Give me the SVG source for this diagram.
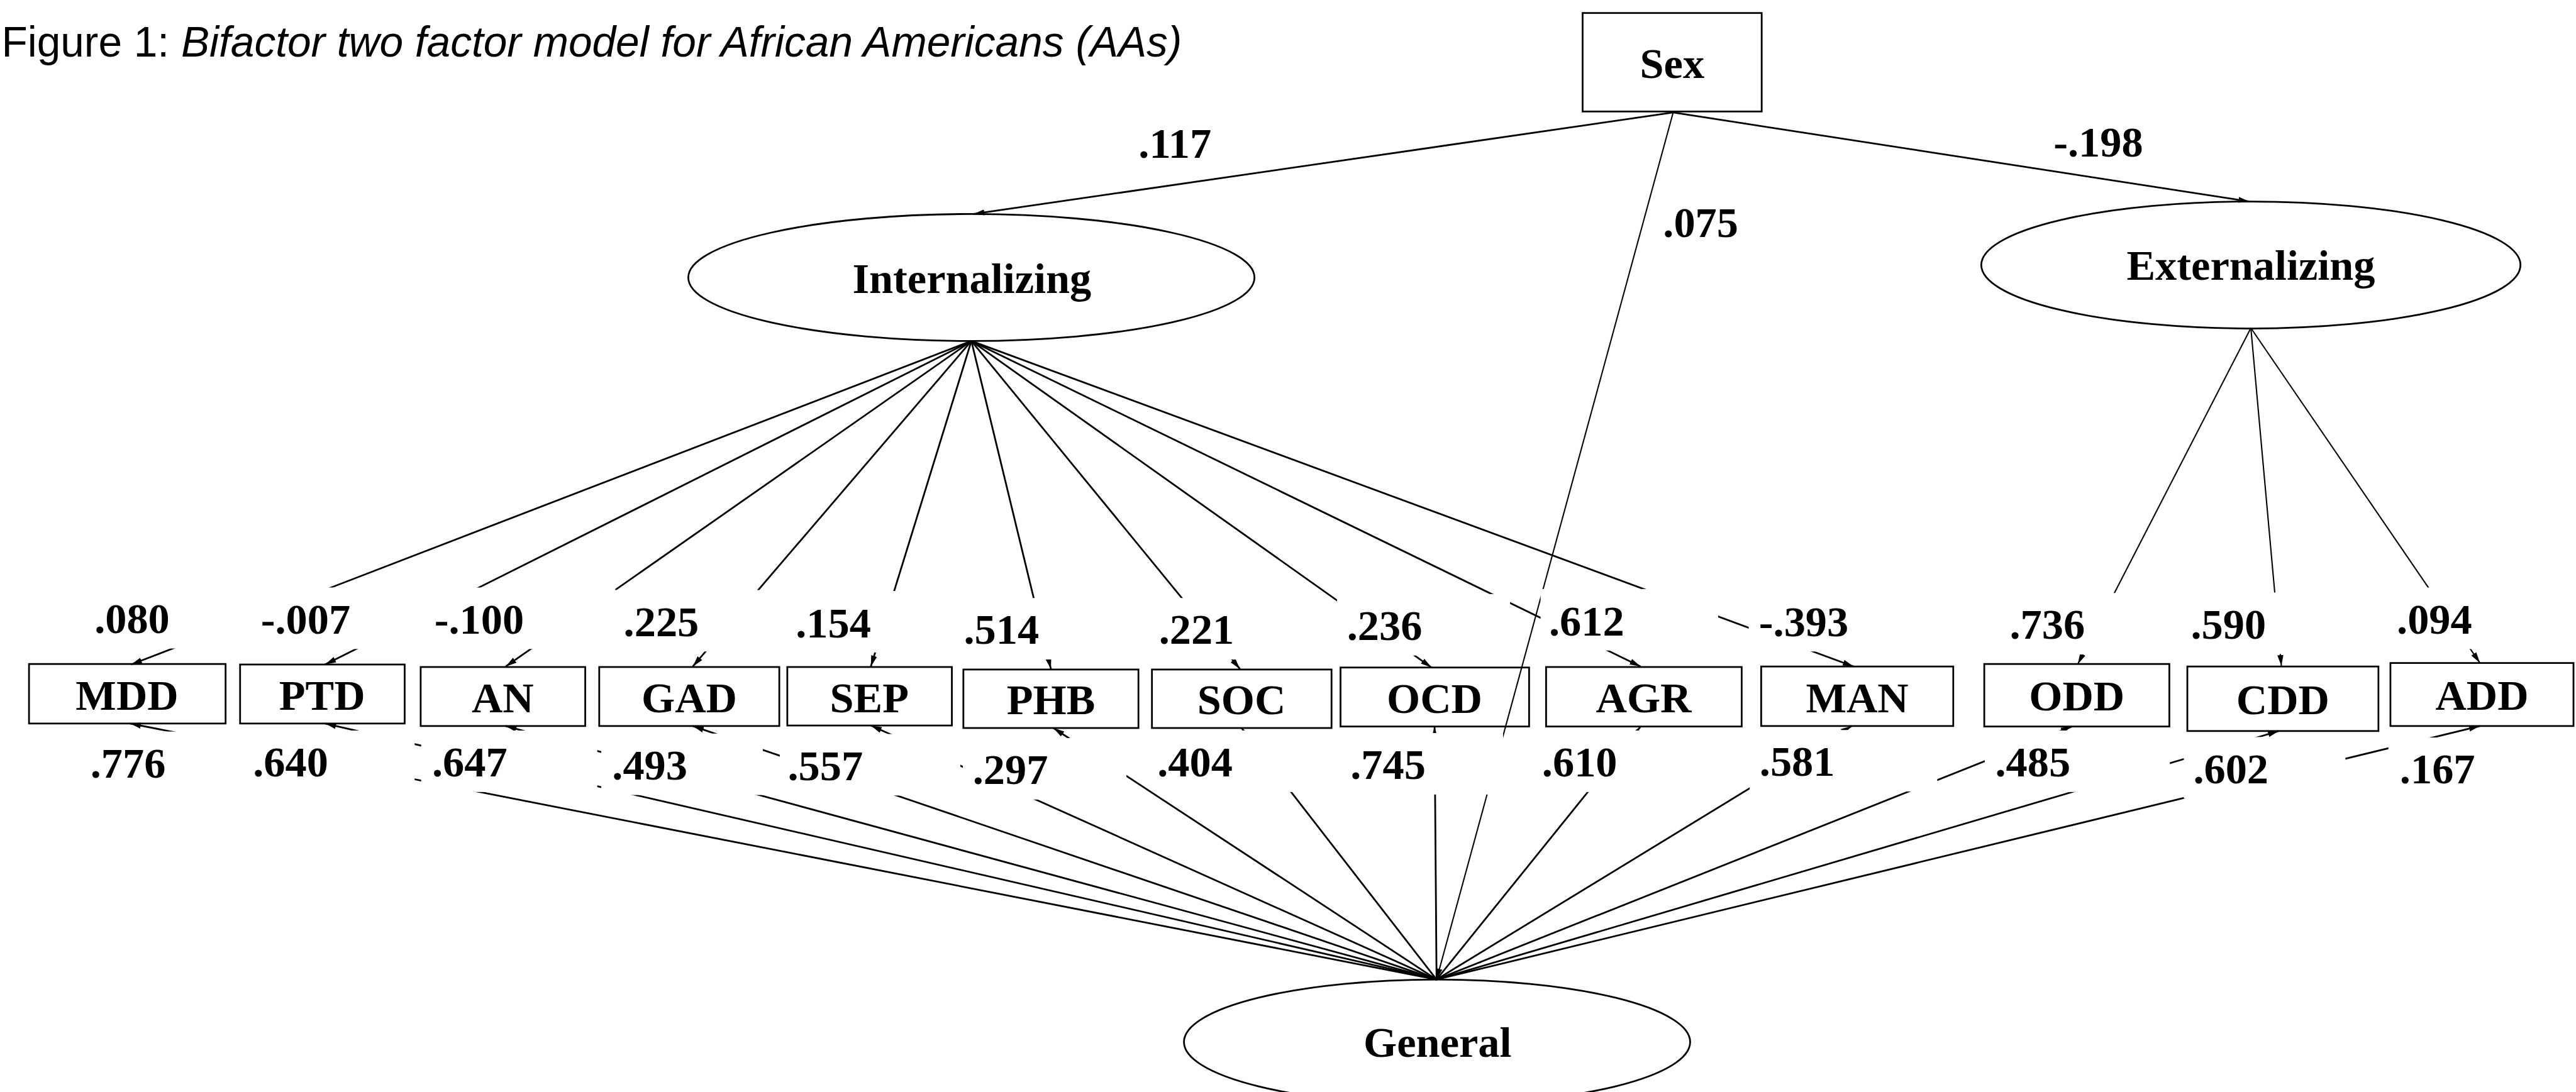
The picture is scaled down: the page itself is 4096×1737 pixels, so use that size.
<svg xmlns="http://www.w3.org/2000/svg" width="4096" height="1737" viewBox="0 0 4096 1737">
<defs>
<marker id="arr" markerUnits="userSpaceOnUse" markerWidth="24" markerHeight="14" refX="22" refY="6" orient="auto" viewBox="0 0 24 12">
<path d="M0,0 L22,6 L0,12 Z" fill="#000"/>
</marker>
<style>
.ln{stroke:#000;stroke-width:3.5;fill:none;marker-end:url(#arr)}
.thin{stroke-width:2.6}
.bx{fill:none;stroke:#000;stroke-width:3.5}
.el{fill:none;stroke:#000;stroke-width:3.5}
.nt{font-family:"Liberation Serif","Times New Roman",serif;font-weight:bold;font-size:86px;text-anchor:middle;fill:#000}
.lb{font-family:"Liberation Serif","Times New Roman",serif;font-weight:bold;font-size:86px;text-anchor:middle;fill:#000}
.bg{fill:#fff;stroke:none}
.ttl{font-family:"Liberation Sans",Arial,sans-serif;font-size:85px;fill:#000}
</style>
</defs>
<rect width="4096" height="1737" fill="#fff"/>
<g transform="scale(0.79534)">
<text class="ttl" x="3" y="113">Figure 1: <tspan font-style="italic">Bifactor two factor model for African Americans (AAs)</tspan></text>

<g id="connectors">
<line class="ln" x1="3345" y1="225" x2="1946" y2="428"/>
<line class="ln" x1="3345" y1="225" x2="4497" y2="403"/>
<line class="ln thin" x1="3345" y1="225" x2="2872" y2="1959"/>
<line class="ln" x1="1942" y1="682" x2="262" y2="1329"/>
<line class="ln" x1="1942" y1="682" x2="650" y2="1329"/>
<line class="ln" x1="1942" y1="682" x2="1011" y2="1333"/>
<line class="ln" x1="1942" y1="682" x2="1385" y2="1333"/>
<line class="ln" x1="1942" y1="682" x2="1741" y2="1333"/>
<line class="ln" x1="1942" y1="682" x2="2101" y2="1338"/>
<line class="ln" x1="1942" y1="682" x2="2479" y2="1338"/>
<line class="ln" x1="1942" y1="682" x2="2862" y2="1335"/>
<line class="ln" x1="1942" y1="682" x2="3280" y2="1333"/>
<line class="ln" x1="1942" y1="682" x2="3706" y2="1333"/>
<line class="ln thin" x1="4500" y1="656" x2="4154" y2="1328"/>
<line class="ln thin" x1="4500" y1="656" x2="4561" y2="1332"/>
<line class="ln thin" x1="4500" y1="656" x2="4958" y2="1326"/>
<line class="ln" x1="2872" y1="1959" x2="260" y2="1447"/>
<line class="ln" x1="2872" y1="1959" x2="650" y2="1447"/>
<line class="ln" x1="2872" y1="1959" x2="1011" y2="1452"/>
<line class="ln" x1="2872" y1="1959" x2="1385" y2="1452"/>
<line class="ln" x1="2872" y1="1959" x2="1741" y2="1451"/>
<line class="ln" x1="2872" y1="1959" x2="2106" y2="1456"/>
<line class="ln" x1="2872" y1="1959" x2="2482" y2="1456"/>
<line class="ln" x1="2872" y1="1959" x2="2868" y2="1453"/>
<line class="ln" x1="2872" y1="1959" x2="3280" y2="1453"/>
<line class="ln" x1="2872" y1="1959" x2="3702" y2="1452"/>
<line class="ln" x1="2872" y1="1959" x2="4142" y2="1453"/>
<line class="ln" x1="2872" y1="1959" x2="4556" y2="1462"/>
<line class="ln" x1="2872" y1="1959" x2="4958" y2="1452"/>
</g>

<g id="labels">
<text class="lb" x="2349" y="315">.117</text>
<text class="lb" x="4195" y="313">-.198</text>
<text class="lb" x="3400" y="474">.075</text>

<rect class="bg" x="167" y="1174" width="353" height="123"/>
<rect class="bg" x="501" y="1175" width="353" height="123"/>
<rect class="bg" x="848" y="1175" width="382" height="123"/>
<rect class="bg" x="1226" y="1180" width="353" height="123"/>
<rect class="bg" x="1567" y="1182" width="353" height="123"/>
<rect class="bg" x="1907" y="1196" width="353" height="123"/>
<rect class="bg" x="2297" y="1196" width="353" height="123"/>
<rect class="bg" x="2673" y="1188" width="346" height="123"/>
<rect class="bg" x="3080" y="1178" width="355" height="123"/>
<rect class="bg" x="3496" y="1180" width="353" height="123"/>
<rect class="bg" x="3998" y="1186" width="353" height="123"/>
<rect class="bg" x="4359" y="1185" width="353" height="123"/>
<rect class="bg" x="4771" y="1175" width="353" height="123"/>

<rect class="bg" x="161" y="1463" width="353" height="123"/>
<rect class="bg" x="484" y="1461" width="345" height="123"/>
<rect class="bg" x="842" y="1461" width="352" height="123"/>
<rect class="bg" x="1202" y="1467" width="323" height="123"/>
<rect class="bg" x="1559" y="1468" width="361" height="123"/>
<rect class="bg" x="1925" y="1476" width="327" height="123"/>
<rect class="bg" x="2305" y="1461" width="341" height="123"/>
<rect class="bg" x="2676" y="1466" width="329" height="123"/>
<rect class="bg" x="3061" y="1461" width="353" height="123"/>
<rect class="bg" x="3498" y="1460" width="375" height="123"/>
<rect class="bg" x="3968" y="1461" width="370" height="123"/>
<rect class="bg" x="4366" y="1474" width="323" height="123"/>
<rect class="bg" x="4775" y="1475" width="353" height="123"/>

<text class="lb" x="264" y="1266">.080</text>
<text class="lb" x="611" y="1267">-.007</text>
<text class="lb" x="958" y="1267">-.100</text>
<text class="lb" x="1322" y="1272">.225</text>
<text class="lb" x="1666" y="1275">.154</text>
<text class="lb" x="2002" y="1288">.514</text>
<text class="lb" x="2392" y="1288">.221</text>
<text class="lb" x="2768" y="1280">.236</text>
<text class="lb" x="3172" y="1271">.612</text>
<text class="lb" x="3606" y="1273">-.393</text>
<text class="lb" x="4093" y="1278">.736</text>
<text class="lb" x="4455" y="1277">.590</text>
<text class="lb" x="4867" y="1267">.094</text>

<text class="lb" x="256" y="1555">.776</text>
<text class="lb" x="581" y="1553">.640</text>
<text class="lb" x="939" y="1553">.647</text>
<text class="lb" x="1299" y="1559">.493</text>
<text class="lb" x="1650" y="1560">.557</text>
<text class="lb" x="2020" y="1568">.297</text>
<text class="lb" x="2389" y="1553">.404</text>
<text class="lb" x="2775" y="1558">.745</text>
<text class="lb" x="3158" y="1553">.610</text>
<text class="lb" x="3593" y="1552">.581</text>
<text class="lb" x="4064" y="1553">.485</text>
<text class="lb" x="4460" y="1566">.602</text>
<text class="lb" x="4873" y="1567">.167</text>
</g>

<g id="sex"><rect class="bx" x="3164" y="26" width="358" height="197"/><text class="nt" x="3343" y="156">Sex</text></g>
<g id="internalizing"><ellipse class="el" cx="1942" cy="555" rx="566" ry="127"/><text class="nt" x="1943" y="586">Internalizing</text></g>
<g id="externalizing"><ellipse class="el" cx="4500" cy="530" rx="539" ry="127"/><text class="nt" x="4500" y="560">Externalizing</text></g>
<g id="general"><ellipse class="el" cx="2873" cy="2084" rx="506" ry="125"/><text class="nt" x="2874" y="2114">General</text></g>

<g id="MDD"><rect class="bx" x="58" y="1328" width="393" height="119"/><text class="nt" x="254" y="1419">MDD</text></g>
<g id="PTD"><rect class="bx" x="480" y="1329" width="329" height="118"/><text class="nt" x="644" y="1419">PTD</text></g>
<g id="AN"><rect class="bx" x="841" y="1334" width="329" height="118"/><text class="nt" x="1005" y="1424">AN</text></g>
<g id="GAD"><rect class="bx" x="1198" y="1334" width="360" height="118"/><text class="nt" x="1378" y="1424">GAD</text></g>
<g id="SEP"><rect class="bx" x="1574" y="1334" width="329" height="117"/><text class="nt" x="1738" y="1424">SEP</text></g>
<g id="PHB"><rect class="bx" x="1926" y="1339" width="350" height="117"/><text class="nt" x="2101" y="1428">PHB</text></g>
<g id="SOC"><rect class="bx" x="2303" y="1339" width="359" height="117"/><text class="nt" x="2482" y="1428">SOC</text></g>
<g id="OCD"><rect class="bx" x="2680" y="1335" width="377" height="118"/><text class="nt" x="2868" y="1426">OCD</text></g>
<g id="AGR"><rect class="bx" x="3091" y="1334" width="391" height="119"/><text class="nt" x="3286" y="1425">AGR</text></g>
<g id="MAN"><rect class="bx" x="3521" y="1333" width="384" height="119"/><text class="nt" x="3713" y="1425">MAN</text></g>
<g id="ODD"><rect class="bx" x="3967" y="1328" width="370" height="125"/><text class="nt" x="4152" y="1421">ODD</text></g>
<g id="CDD"><rect class="bx" x="4373" y="1333" width="382" height="129"/><text class="nt" x="4564" y="1428">CDD</text></g>
<g id="ADD"><rect class="bx" x="4779" y="1326" width="366" height="126"/><text class="nt" x="4962" y="1420">ADD</text></g>
</g>
</svg>
